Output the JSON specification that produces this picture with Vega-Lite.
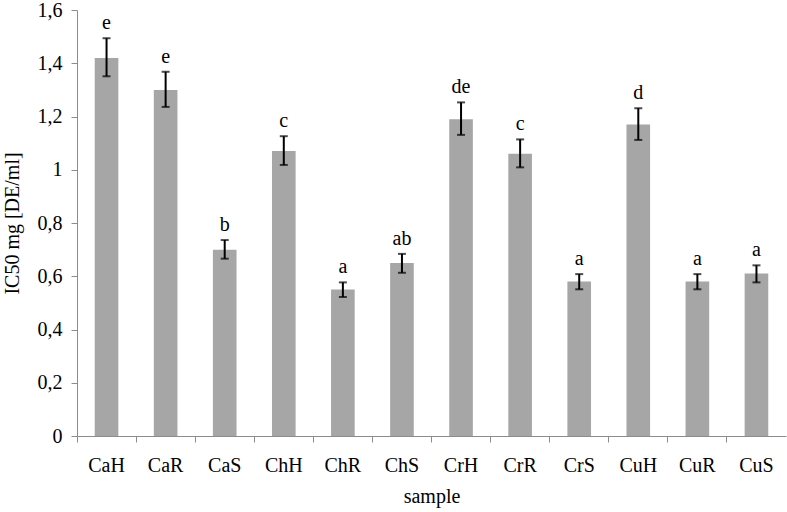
{
  "$schema": "https://vega.github.io/schema/vega-lite/v6.json",
  "width": 709,
  "height": 426,
  "autosize": {"type": "none"},
  "padding": {"left": 77, "top": 10, "right": 1, "bottom": 76},
  "background": "white",
  "config": {
    "view": {"stroke": null},
    "font": "Liberation Serif",
    "axis": {"labelFont": "Liberation Serif", "titleFont": "Liberation Serif", "labelColor": "black", "titleColor": "black", "titleFontWeight": "normal", "domainColor": "#8c8c8c", "tickColor": "#8c8c8c", "grid": false, "labelOverlap": false, "labelFlush": false}
  },
  "data": {
    "values": [
      {"sample": "CaH", "value": 1.42, "lo": 1.351, "hi": 1.494, "group": "e"},
      {"sample": "CaR", "value": 1.30, "lo": 1.236, "hi": 1.368, "group": "e"},
      {"sample": "CaS", "value": 0.70, "lo": 0.666, "hi": 0.736, "group": "b"},
      {"sample": "ChH", "value": 1.07, "lo": 1.018, "hi": 1.126, "group": "c"},
      {"sample": "ChR", "value": 0.55, "lo": 0.522, "hi": 0.577, "group": "a"},
      {"sample": "ChS", "value": 0.65, "lo": 0.613, "hi": 0.684, "group": "ab"},
      {"sample": "CrH", "value": 1.19, "lo": 1.131, "hi": 1.253, "group": "de"},
      {"sample": "CrR", "value": 1.06, "lo": 1.009, "hi": 1.114, "group": "c"},
      {"sample": "CrS", "value": 0.58, "lo": 0.551, "hi": 0.608, "group": "a"},
      {"sample": "CuH", "value": 1.17, "lo": 1.112, "hi": 1.231, "group": "d"},
      {"sample": "CuR", "value": 0.58, "lo": 0.551, "hi": 0.608, "group": "a"},
      {"sample": "CuS", "value": 0.61, "lo": 0.577, "hi": 0.641, "group": "a"}
    ]
  },
  "encoding": {
    "x": {
      "field": "sample", "type": "nominal", "sort": null,
      "scale": {"paddingInner": 0, "paddingOuter": 0},
      "axis": {"title": "sample", "labelAngle": 0, "bandPosition": 0, "tickSize": 6, "labelPadding": 13, "labelFontSize": 20, "titleFontSize": 20, "titlePadding": 11, "labelOffset": 0}
    }
  },
  "layer": [
    {
      "mark": {"type": "bar", "color": "#a6a6a6", "width": {"band": 0.4}},
      "encoding": {
        "y": {
          "field": "value", "type": "quantitative",
          "scale": {"domain": [0, 1.6], "nice": false},
          "axis": {"title": "IC50 mg [DE/ml]", "values": [0, 0.2, 0.4, 0.6, 0.8, 1, 1.2, 1.4, 1.6], "labelExpr": "replace(format(datum.value, '~g'), '.', ',')", "tickSize": 6, "labelPadding": 9, "labelFontSize": 20, "titleFontSize": 20, "titlePadding": 15}
        }
      }
    },
    {
      "mark": {"type": "rule", "color": "black", "strokeWidth": 2},
      "encoding": {"y": {"field": "lo", "type": "quantitative"}, "y2": {"field": "hi"}}
    },
    {
      "mark": {"type": "tick", "color": "black", "thickness": 2, "size": 8, "orient": "horizontal"},
      "encoding": {"y": {"field": "hi", "type": "quantitative"}}
    },
    {
      "mark": {"type": "tick", "color": "black", "thickness": 2, "size": 8, "orient": "horizontal"},
      "encoding": {"y": {"field": "lo", "type": "quantitative"}}
    },
    {
      "mark": {"type": "text", "fontSize": 20, "baseline": "alphabetic", "dy": -9, "color": "black"},
      "encoding": {"y": {"field": "hi", "type": "quantitative"}, "text": {"field": "group"}}
    }
  ]
}
